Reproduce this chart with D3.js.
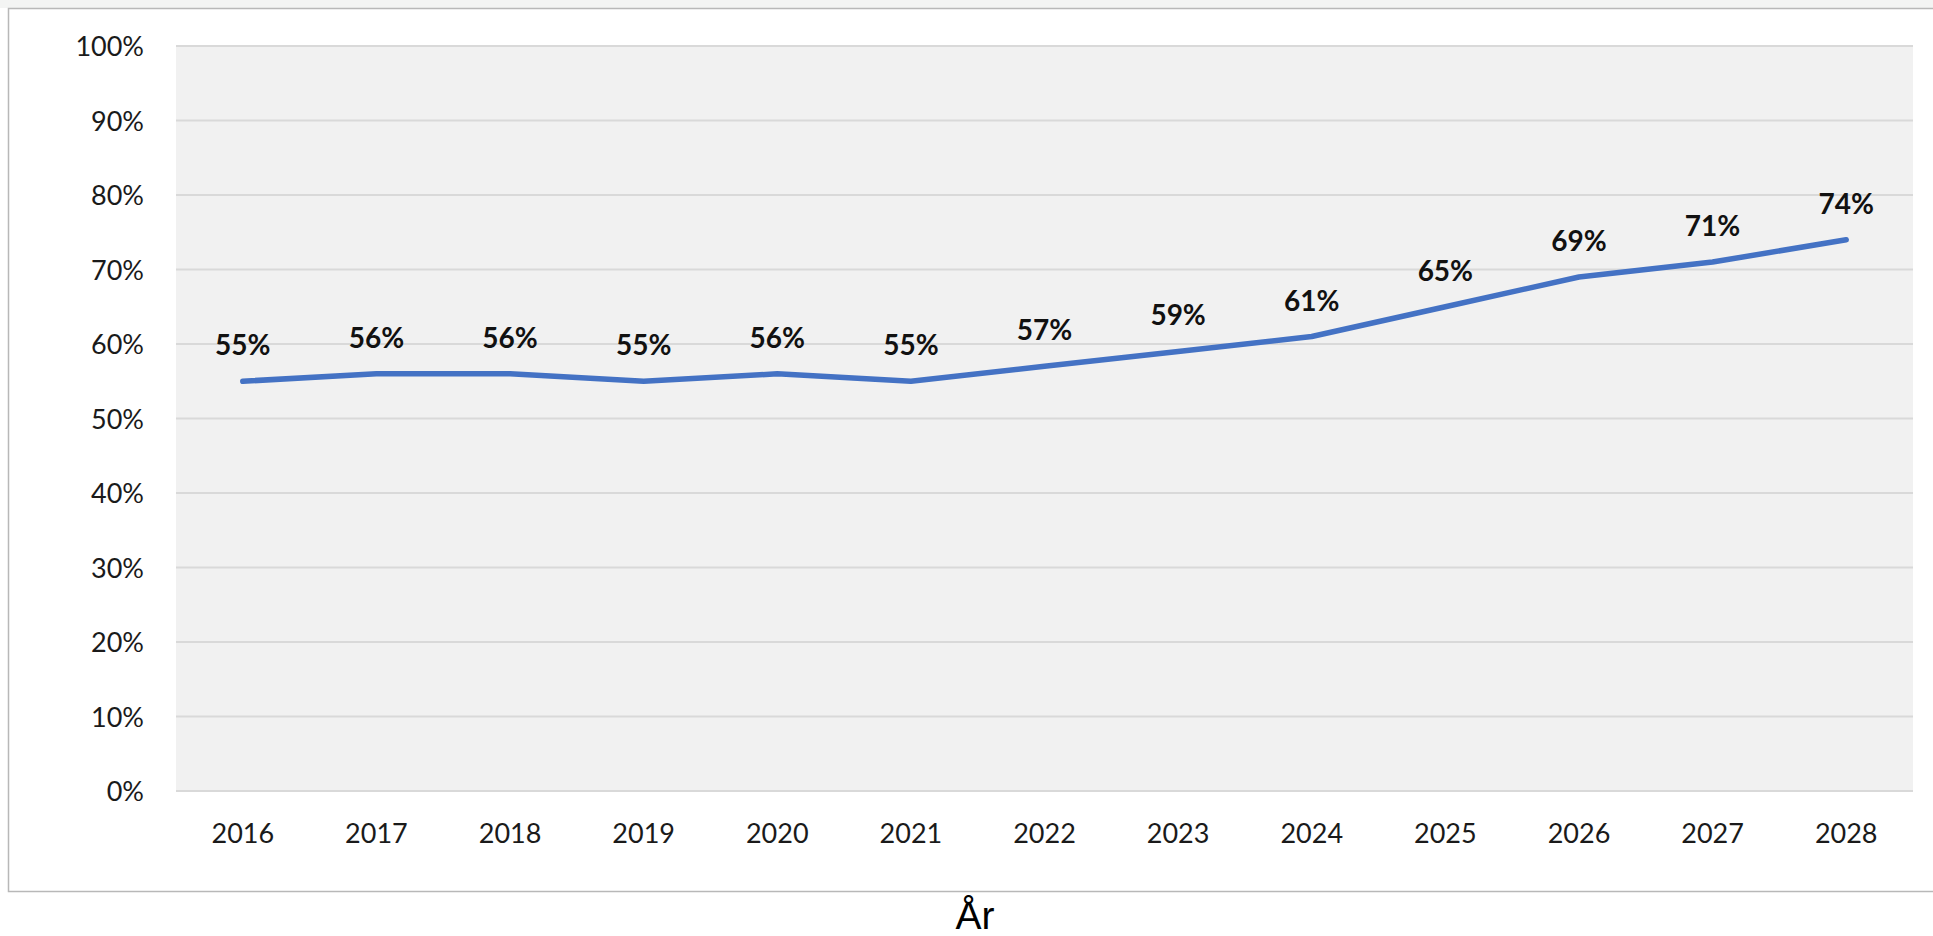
<!DOCTYPE html>
<html>
<head>
<meta charset="utf-8">
<script src="https://cdn.jsdelivr.net/npm/d3@7"></script>
<style>
  html, body { margin: 0; padding: 0; background: #ffffff; overflow: hidden; }
  svg { display: block; }
  .tick text { font-family: Lato, "Open Sans", sans-serif; fill: #1a1a1a; }
</style>
</head>
<body>
<svg id="chart" width="1933" height="936"></svg>
<script>
// Share per year (fraction of 1)
const years = ["2016", "2017", "2018", "2019", "2020", "2021", "2022", "2023", "2024", "2025", "2026", "2027", "2028"];
const shares = [0.55, 0.56, 0.56, 0.55, 0.56, 0.55, 0.57, 0.59, 0.61, 0.65, 0.69, 0.71, 0.74];
const yTicks = [0, 0.1, 0.2, 0.3, 0.4, 0.5, 0.6, 0.7, 0.8, 0.9, 1.0];
const axisTitle = "År";

const W = 1933, H = 936;
const plot = { left: 176, right: 1913, top: 46, bottom: 791 };

const svg = d3.select("#chart");

// top strip and outer frame
svg.append("rect").attr("x", 0).attr("y", 0).attr("width", W).attr("height", 8).attr("fill", "#f3f4f3");
svg.append("rect")
  .attr("x", 8.5).attr("y", 8.5)
  .attr("width", W + 10).attr("height", 883)
  .attr("fill", "#ffffff").attr("stroke", "#b8b8b8").attr("stroke-width", 1.5);

const x = d3.scaleBand().domain(years).range([plot.left, plot.right]).padding(0);
const y = d3.scaleLinear().domain([0, 1]).range([plot.bottom, plot.top]);

// plot background
svg.append("rect")
  .attr("x", plot.left).attr("y", plot.top)
  .attr("width", plot.right - plot.left).attr("height", plot.bottom - plot.top)
  .attr("fill", "#f1f1f1");

// gridlines
svg.append("g")
  .selectAll("line")
  .data(yTicks)
  .join("line")
  .attr("x1", plot.left).attr("x2", plot.right)
  .attr("y1", d => y(d)).attr("y2", d => y(d))
  .attr("stroke", "#d9d9d9").attr("stroke-width", 2);

// y axis labels
const yAxis = svg.append("g")
  .attr("transform", `translate(${plot.left},0)`)
  .call(d3.axisLeft(y).tickValues(yTicks).tickFormat(d3.format(".0%")).tickSize(0).tickPadding(32));
yAxis.select(".domain").remove();
yAxis.selectAll("text").attr("font-size", 27).attr("dy", "0.36em");

// x axis labels
const xAxis = svg.append("g")
  .attr("transform", `translate(0,${plot.bottom})`)
  .call(d3.axisBottom(x).tickSize(0).tickPadding(0));
xAxis.select(".domain").remove();
xAxis.selectAll("text").attr("font-size", 27).attr("dy", null).attr("y", 52);

// line
const cx = d => x(d) + x.bandwidth() / 2;
const line = d3.line()
  .x((d, i) => cx(years[i]))
  .y(d => y(d));

svg.append("path")
  .datum(shares)
  .attr("d", line)
  .attr("fill", "none")
  .attr("stroke", "#4472c4")
  .attr("stroke-width", 5.5)
  .attr("stroke-linejoin", "round")
  .attr("stroke-linecap", "round");

// value labels
svg.append("g")
  .selectAll("text")
  .data(shares)
  .join("text")
  .attr("x", (d, i) => cx(years[i]))
  .attr("y", d => y(d) - 26)
  .attr("text-anchor", "middle")
  .attr("font-family", "Lato, 'Open Sans', sans-serif")
  .attr("font-weight", "bold")
  .attr("font-size", 28)
  .attr("fill", "#111111")
  .text(d => d3.format(".0%")(d));

// axis title
svg.append("text")
  .attr("x", 975).attr("y", 929)
  .attr("text-anchor", "middle")
  .attr("font-family", "'Liberation Sans', Arial, sans-serif")
  .attr("font-size", 39)
  .attr("fill", "#000000")
  .text(axisTitle);
</script>
</body>
</html>
